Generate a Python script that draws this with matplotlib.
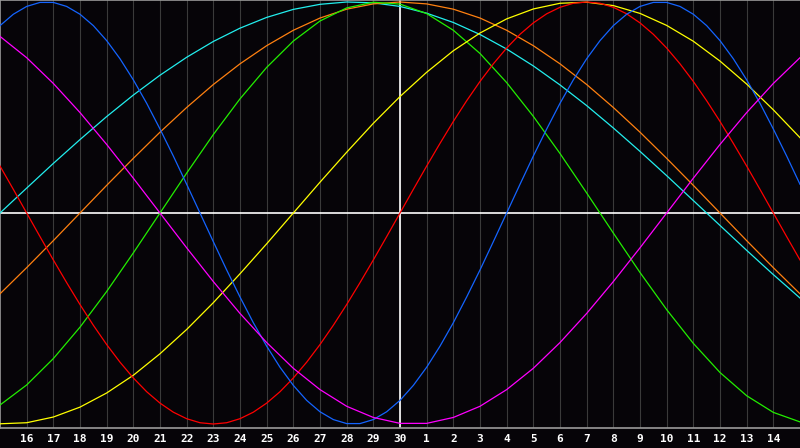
import numpy as np
import matplotlib
matplotlib.use("Agg")
import matplotlib.pyplot as plt

# day labels (positions 1..29), edges 0 and 30 are unlabeled
days = ['16', '17', '18', '19', '20', '21', '22', '23', '24', '25', '26', '27', '28', '29', '30',
        '1', '2', '3', '4', '5', '6', '7', '8', '9', '10', '11', '12', '13', '14']
today = 15  # position of the white marker line

# values read every half day (fast cycles), left edge (0) to right edge (30)
blue = [0.888, 0.942, 0.979, 0.998, 0.998, 0.979, 0.942, 0.888, 0.817, 0.731, 0.631, 0.520,
        0.398, 0.270, 0.136, 0.000, -0.136, -0.270, -0.398, -0.520, -0.631, -0.731, -0.817,
        -0.888, -0.942, -0.979, -0.998, -0.998, -0.979, -0.942, -0.888, -0.817, -0.731,
        -0.631, -0.520, -0.398, -0.270, -0.136, 0.000, 0.136, 0.270, 0.398, 0.520, 0.631,
        0.731, 0.817, 0.888, 0.942, 0.979, 0.998, 0.998, 0.979, 0.942, 0.888, 0.817, 0.731,
        0.631, 0.520, 0.398, 0.270, 0.136]
red = [0.2225, 0.112, 0.0, -0.112, -0.2225, -0.330, -0.4339, -0.532, -0.6235, -0.707,
       -0.7818, -0.847, -0.9010, -0.944, -0.9749, -0.994, -1.0, -0.994, -0.9749, -0.944,
       -0.9010, -0.847, -0.7818, -0.707, -0.6235, -0.532, -0.4339, -0.330, -0.2225, -0.112,
       0.0, 0.112, 0.2225, 0.330, 0.4339, 0.532, 0.6235, 0.707, 0.7818, 0.847, 0.9010,
       0.944, 0.9749, 0.994, 1.0, 0.994, 0.9749, 0.944, 0.9010, 0.847, 0.7818, 0.707,
       0.6235, 0.532, 0.4339, 0.330, 0.2225, 0.112, 0.0, -0.112, -0.2225]

# values read per day (slow cycles)
green = [-0.910, -0.815, -0.690, -0.541, -0.372, -0.189, 0.0, 0.189, 0.372, 0.541, 0.690,
         0.815, 0.910, 0.972, 0.999, 0.990, 0.945, 0.866, 0.756, 0.618, 0.458, 0.282,
         0.095, -0.095, -0.282, -0.458, -0.618, -0.756, -0.866, -0.945, -0.990]
magenta = [0.837, 0.736, 0.614, 0.476, 0.325, 0.165, 0.0, -0.165, -0.325, -0.476, -0.614,
           -0.736, -0.837, -0.916, -0.969, -0.997, -0.997, -0.969, -0.916, -0.837, -0.736,
           -0.614, -0.476, -0.325, -0.165, 0.0, 0.165, 0.325, 0.476, 0.614, 0.736]
yellow = [-0.999, -0.994, -0.967, -0.920, -0.853, -0.769, -0.667, -0.552, -0.425, -0.288,
          -0.146, 0.0, 0.146, 0.288, 0.425, 0.552, 0.667, 0.769, 0.853, 0.920, 0.967,
          0.994, 0.999, 0.983, 0.946, 0.889, 0.814, 0.720, 0.611, 0.489, 0.357]
orange = [-0.383, -0.259, -0.131, 0.0, 0.131, 0.259, 0.383, 0.500, 0.609, 0.707, 0.793,
          0.866, 0.924, 0.966, 0.991, 1.0, 0.991, 0.966, 0.924, 0.866, 0.793, 0.707,
          0.609, 0.500, 0.383, 0.259, 0.131, 0.0, -0.131, -0.259, -0.383]
cyan = [0.0, 0.118, 0.235, 0.348, 0.457, 0.559, 0.653, 0.738, 0.813, 0.876, 0.927, 0.965,
        0.989, 1.000, 0.996, 0.979, 0.947, 0.903, 0.846, 0.777, 0.697, 0.607, 0.509,
        0.403, 0.292, 0.177, 0.059, -0.059, -0.177, -0.292, -0.403]

series = [(cyan, '#22eeee'), (orange, '#ff8010'), (green, '#22ee00'), (yellow, '#ffff00'),
          (red, '#ff0000'), (blue, '#1464ff'), (magenta, '#ff00ff')]

bg = '#060408'
fig = plt.figure(figsize=(8, 4.48), dpi=100, facecolor=bg)
ax = fig.add_axes([0, 20 / 448, 1, 428 / 448])
ax.set_facecolor(bg)

n = len(days) + 1
ax.set_xlim(0, n)
ax.set_ylim(-215 / 211, 213 / 211)

for k in range(1, n):
    ax.axvline(k, color='#3a3a3a', lw=0.8, zorder=1)
ax.axhline(0, color='white', lw=1.2, zorder=2)
ax.axvline(today, color='white', lw=1.2, zorder=2)

for vals, col in series:
    x = np.linspace(0, n, len(vals))
    ax.plot(x, vals, color=col, lw=0.9, zorder=3)

ax.set_yticks([])
ax.set_xticks(range(1, n))
ax.set_xticklabels(days, color='white', fontsize=8, fontweight='bold', family='DejaVu Sans Mono')
ax.tick_params(axis='x', length=0, pad=4.5)

for side in ['left', 'top', 'bottom']:
    ax.spines[side].set_color('#9a9a9a')
    ax.spines[side].set_linewidth(1.2)
ax.spines['right'].set_visible(False)

fig.savefig('out.png', dpi=100, facecolor=bg)
